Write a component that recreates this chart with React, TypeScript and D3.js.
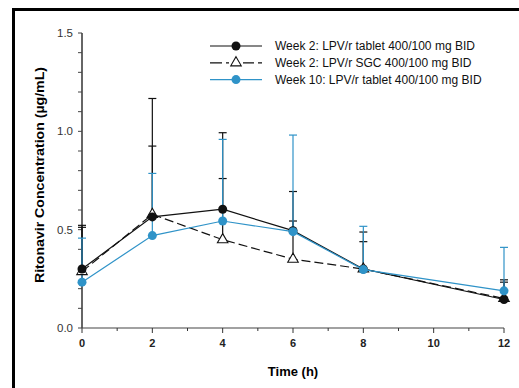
import React, { useEffect, useRef } from "react";
import * as d3 from "d3";

const times = [0, 2, 4, 6, 8, 12];

const week2Tablet = [0.3, 0.565, 0.604, 0.495, 0.3, 0.145];
const week2TabletUpper = [0.512, 0.925, 0.76, 0.544, 0.439, 0.233];

const week2Sgc = [0.287, 0.578, 0.449, 0.35, 0.3, 0.15];
const week2SgcUpper = [0.522, 1.167, 0.993, 0.694, 0.488, 0.245];

const week10Tablet = [0.233, 0.47, 0.544, 0.49, 0.297, 0.189];
const week10TabletUpper = [0.457, 0.786, 0.959, 0.981, 0.517, 0.41];

const legendLabels = [
  "Week 2: LPV/r tablet 400/100 mg BID",
  "Week 2: LPV/r SGC 400/100 mg BID",
  "Week 10: LPV/r tablet 400/100 mg BID",
];

const xTicks = [0, 2, 4, 6, 8, 10, 12];
const yTicks = [0, 0.5, 1.0, 1.5];

const BLUE = "#2f93c8";
const FONT = "'Liberation Sans', Arial, Helvetica, sans-serif";

function App() {
  const svgRef = useRef<SVGSVGElement>(null);
  const width = 519;
  const height = 388;

  useEffect(() => {
    const svg = d3.select(svgRef.current);
    svg.selectAll("*").remove();

    const margin = { top: 33, right: 15, bottom: 60, left: 82 };

    const x = d3.scaleLinear().domain([0, 12]).range([margin.left, width - margin.right]);
    const y = d3.scaleLinear().domain([0, 1.5]).range([height - margin.bottom, margin.top]);

    // outer frame (runs off the right and bottom edges)
    svg
      .append("rect")
      .attr("x", 13.5)
      .attr("y", 9.5)
      .attr("width", 600)
      .attr("height", 600)
      .attr("fill", "none")
      .attr("stroke", "#000")
      .attr("stroke-width", 3);

    // y axis
    const yAxis = svg.append("g").attr("transform", `translate(${margin.left},0)`);
    yAxis
      .append("line")
      .attr("y1", y(0))
      .attr("y2", y(1.5))
      .attr("stroke", "#666")
      .attr("stroke-width", 2);
    yAxis
      .selectAll(".ytick")
      .data(d3.range(0, 16).map((i) => i / 10))
      .enter()
      .append("line")
      .attr("x1", -4)
      .attr("x2", 0)
      .attr("y1", (d) => y(d))
      .attr("y2", (d) => y(d))
      .attr("stroke", "#444")
      .attr("stroke-width", 1);
    yAxis
      .selectAll(".ylab")
      .data(yTicks)
      .enter()
      .append("text")
      .attr("x", -9)
      .attr("y", (d) => y(d))
      .attr("dy", "0.35em")
      .attr("text-anchor", "end")
      .style("font-family", FONT)
      .style("font-size", "11.5px")
      .style("fill", "#333")
      .text((d) => d.toFixed(1));

    // x axis
    const xAxis = svg.append("g").attr("transform", `translate(0,${y(0)})`);
    xAxis
      .append("line")
      .attr("x1", x(0))
      .attr("x2", x(12))
      .attr("stroke", "#444")
      .attr("stroke-width", 1.2);
    xAxis
      .selectAll(".xtick")
      .data(d3.range(0, 13))
      .enter()
      .append("line")
      .attr("x1", (d) => x(d))
      .attr("x2", (d) => x(d))
      .attr("y1", 0)
      .attr("y2", (d) => (d % 2 === 0 ? 5 : 3))
      .attr("stroke", "#333")
      .attr("stroke-width", 1);
    xAxis
      .selectAll(".xlab")
      .data(xTicks)
      .enter()
      .append("text")
      .attr("x", (d) => x(d))
      .attr("y", 19)
      .attr("text-anchor", "middle")
      .style("font-family", FONT)
      .style("font-size", "11px")
      .style("font-weight", "bold")
      .style("fill", "#222")
      .text((d) => d);

    // axis titles
    svg
      .append("text")
      .attr("x", x(6))
      .attr("y", 376)
      .attr("text-anchor", "middle")
      .style("font-family", FONT)
      .style("font-size", "13px")
      .style("font-weight", "bold")
      .text("Time (h)");
    svg
      .append("text")
      .attr("transform", `translate(43.5,175) rotate(-90)`)
      .attr("text-anchor", "middle")
      .attr("textLength", 216)
      .attr("lengthAdjust", "spacingAndGlyphs")
      .style("font-family", FONT)
      .style("font-size", "12.5px")
      .style("font-weight", "bold")
      .text("Ritonavir Concentration (µg/mL)");

    const series = [
      { values: week2Sgc, upper: week2SgcUpper, color: "#111", dash: "9,4", marker: "triangle" },
      { values: week2Tablet, upper: week2TabletUpper, color: "#111", dash: null, marker: "circle" },
      { values: week10Tablet, upper: week10TabletUpper, color: BLUE, dash: null, marker: "circle" },
    ];

    const line = d3
      .line<number>()
      .x((d, i) => x(times[i]))
      .y((d) => y(d));

    const tri = d3.symbol().type(d3.symbolTriangle).size(48);

    // error bars
    series.forEach((s) => {
      const g = svg.append("g");
      s.values.forEach((v, i) => {
        const cx = x(times[i]);
        g.append("line")
          .attr("x1", cx)
          .attr("x2", cx)
          .attr("y1", y(v))
          .attr("y2", y(s.upper[i]))
          .attr("stroke", s.color)
          .attr("stroke-width", 1.2);
        g.append("line")
          .attr("x1", cx - 4)
          .attr("x2", cx + 4)
          .attr("y1", y(s.upper[i]))
          .attr("y2", y(s.upper[i]))
          .attr("stroke", s.color)
          .attr("stroke-width", 1.2);
      });
    });

    // lines and markers
    series.forEach((s) => {
      svg
        .append("path")
        .datum(s.values)
        .attr("d", line)
        .attr("fill", "none")
        .attr("stroke", s.color)
        .attr("stroke-width", 1.2)
        .attr("stroke-dasharray", s.dash);

      const pts = svg.append("g");
      s.values.forEach((v, i) => {
        if (s.marker === "triangle") {
          pts
            .append("path")
            .attr("d", tri())
            .attr("transform", `translate(${x(times[i])},${y(v)})`)
            .attr("fill", "#fff")
            .attr("stroke", "#111")
            .attr("stroke-width", 1.1);
        } else {
          pts
            .append("circle")
            .attr("cx", x(times[i]))
            .attr("cy", y(v))
            .attr("r", 4.5)
            .attr("fill", s.color);
        }
      });
    });

    // legend
    const legendOrder = [series[1], series[0], series[2]];
    const legend = svg.append("g");
    legendOrder.forEach((s, i) => {
      const ly = 46 + i * 16.8;
      legend
        .append("line")
        .attr("x1", 210)
        .attr("x2", 262)
        .attr("y1", ly)
        .attr("y2", ly)
        .attr("stroke", s.color)
        .attr("stroke-width", 1.2)
        .attr("stroke-dasharray", s.dash ? "12,4" : null);
      if (s.marker === "triangle") {
        legend
          .append("rect")
          .attr("x", 229)
          .attr("y", ly - 6)
          .attr("width", 14)
          .attr("height", 12)
          .attr("fill", "#fff");
        legend
          .append("path")
          .attr("d", tri())
          .attr("transform", `translate(236,${ly})`)
          .attr("fill", "#fff")
          .attr("stroke", "#111")
          .attr("stroke-width", 1.1);
      } else {
        legend
          .append("circle")
          .attr("cx", 236)
          .attr("cy", ly)
          .attr("r", 4.5)
          .attr("fill", s.color);
      }
      legend
        .append("text")
        .attr("x", 275)
        .attr("y", ly)
        .attr("dy", "0.35em")
        .style("font-family", FONT)
        .style("font-size", "12px")
        .style("fill", "#111")
        .text(legendLabels[i]);
    });
  }, []);

  return (
    <svg
      ref={svgRef}
      width={width}
      height={height}
      style={{ position: "fixed", left: 0, top: 0, background: "#fff" }}
    ></svg>
  );
}

export default App;
